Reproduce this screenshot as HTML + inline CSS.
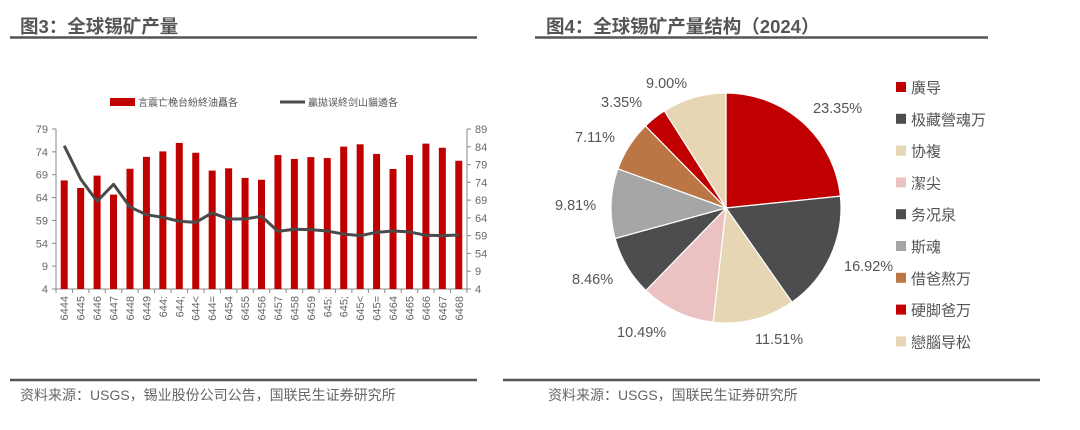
<!DOCTYPE html>
<html><head><meta charset="utf-8">
<style>
body{margin:0;width:1080px;height:430px;background:#fff;overflow:hidden;font-family:"Liberation Sans","Noto Sans CJK SC",sans-serif;}
svg{position:absolute;left:0;top:0;}
</style></head>
<body>
<svg width="1080" height="430">
<g>
<text x="20" y="33" font-size="18.5" font-weight="bold" fill="#555" font-family="Liberation Sans,Noto Sans CJK SC,sans-serif">图3：全球锡矿产量</text>
<line x1="10" y1="37.5" x2="477" y2="37.5" stroke="#555" stroke-width="2.5"/>
<line x1="10" y1="380" x2="477" y2="380" stroke="#555" stroke-width="2.5"/>
<text x="20" y="400" font-size="14" fill="#666" font-family="Liberation Sans,Noto Sans CJK SC,sans-serif">资料来源：USGS，锡业股份公司公告，国联民生证券研究所</text>
<rect x="110" y="98" width="25" height="8" fill="#c00000"/>
<text x="138" y="106" font-size="10" fill="#555">言震亡梚台紛終油矗各</text>
<line x1="280" y1="102" x2="305" y2="102" stroke="#4a4a4a" stroke-width="3"/>
<text x="308" y="106" font-size="10" fill="#555">贏拋误終剑山貓遴各</text>
<g id="leftChart"></g>
</g>
<g>
<text x="546" y="33" font-size="18.5" font-weight="bold" fill="#555" font-family="Liberation Sans,Noto Sans CJK SC,sans-serif">图4：全球锡矿产量结构（2024）</text>
<line x1="535" y1="37.5" x2="988" y2="37.5" stroke="#555" stroke-width="2.5"/>
<line x1="503" y1="380" x2="1040" y2="380" stroke="#555" stroke-width="2.5"/>
<text x="548" y="400" font-size="14" fill="#666" font-family="Liberation Sans,Noto Sans CJK SC,sans-serif">资料来源：USGS，国联民生证券研究所</text>
<g id="pieChart"></g>
</g>
</svg>
<script>
const years=["6444","6445","6446","6447","6448","6449","644:","644;","644<","644=","6454","6455","6456","6457","6458","6459","645:","645;","645<","645=","6464","6465","6466","6467","6468"];
const barValues=[4.75,4.42,4.96,4.13,5.26,5.78,6.02,6.39,5.96,5.18,5.28,4.86,4.78,5.86,5.69,5.77,5.73,6.23,6.33,5.91,5.25,5.86,6.36,6.18,5.61];
const lineValues=[8.06,6.19,4.93,5.89,4.61,4.18,4.03,3.81,3.75,4.28,3.94,3.94,4.09,3.24,3.36,3.34,3.26,3.09,3.0,3.19,3.26,3.21,3.02,3.0,3.04];
const leftTicks=["4","9","54","59","64","69","74","79"];
const rightTicks=["4","9","54","59","64","69","74","79","84","89"];
const pieValues=[23.35,16.92,11.51,10.49,8.46,9.81,7.11,3.35,9.00];
const pieLabels=["23.35%","16.92%","11.51%","10.49%","8.46%","9.81%","7.11%","3.35%","9.00%"];
const pieNames=["廣导","极藏營魂万","协複","潔尖","务况泉","斯魂","借爸熬万","硬脚爸万","戀腦导松"];
const pieColors=["#c00000","#4d4d4f","#e6d6b4","#ebc1c1","#4d4d4f","#a6a6a6","#bc7646","#c00000","#e6d6b4"];

const NS="http://www.w3.org/2000/svg";
function mk(parent,tag,attrs,text){const e=document.createElementNS(NS,tag);for(const k in attrs)e.setAttribute(k,attrs[k]);if(text!==undefined)e.textContent=text;parent.appendChild(e);return e;}

const L=document.getElementById('leftChart');
const x0=56,x1=467,yT=129,yB=289;
const yL=v=>yB-v/(leftTicks.length-1)*(yB-yT);
const yR=v=>yB-v/(rightTicks.length-1)*(yB-yT);
const band=(x1-x0)/years.length;
const xc=i=>x0+band*(i+0.5);
let e=mk(L,'line',{x1:x0,y1:yT,x2:x0,y2:yB,stroke:'#888'});


e=mk(L,'line',{x1:x1,y1:yT,x2:x1,y2:yB,stroke:'#888'});


e=mk(L,'line',{x1:x0,y1:yB,x2:x1,y2:yB,stroke:'#888'});


leftTicks.forEach((t,i)=>{const y=yL(i);
 mk(L,'line',{x1:x0-4,y1:y,x2:x0,y2:y,stroke:'#888'});
 const tx=mk(L,'text',{x:x0-8,y:y+4,'font-size':11,fill:'#666','text-anchor':'end'},t);
 
 });
rightTicks.forEach((t,i)=>{const y=yR(i);
 mk(L,'line',{x1:x1,y1:y,x2:x1+4,y2:y,stroke:'#888'});
 const tx=mk(L,'text',{x:x1+8,y:y+4,'font-size':11,fill:'#666'},t);
 
 });
for(let i=0;i<=years.length;i++){mk(L,'line',{x1:x0+band*i,y1:yB,x2:x0+band*i,y2:yB+4,stroke:'#888'});}
years.forEach((yr,i)=>{
 const r=mk(L,'rect',{x:xc(i)-3.5,y:yL(barValues[i]),width:7,height:yB-yL(barValues[i]),fill:'#c00000'});
 
 
 const tx=mk(L,'text',{x:0,y:0,'font-size':11,fill:'#666','text-anchor':'end',transform:`translate(${xc(i)+4},${yB+7}) rotate(-90)`},yr);
 
 
});
const pl=mk(L,'polyline',{points:lineValues.map((v,i)=>xc(i)+','+yR(v)).join(' '),fill:'none',stroke:'#4a4a4a','stroke-width':3,'stroke-linejoin':'round'});



const P=document.getElementById('pieChart');
const cx=726,cy=208,R=115;
const total=pieValues.reduce((a,b)=>a+b,0);
const labelPos=[[813,113],[844,271],[755,344],[617,337],[572,284],[555,210],[575,142],[601,107],[646,88]];
let a=0;
pieValues.forEach((v,i)=>{
 const a0=a/total*2*Math.PI, a1=(a+v)/total*2*Math.PI; a+=v;
 const p=(ang)=>[cx+R*Math.sin(ang),cy-R*Math.cos(ang)];
 const [sx,sy]=p(a0),[ex,ey]=p(a1);
 const s=mk(P,'path',{d:`M${cx},${cy}L${sx},${sy}A${R},${R} 0 ${a1-a0>Math.PI?1:0} 1 ${ex},${ey}Z`,fill:pieColors[i],stroke:'#fff','stroke-width':1.2});
 
 
 const t=mk(P,'text',{x:labelPos[i][0],y:labelPos[i][1],'font-size':14.5,fill:'#555'},pieLabels[i]);
 
 
 const ly=87+i*31.8;
 const sw=mk(P,'rect',{x:896,y:ly-5,width:10,height:10,fill:pieColors[i]});
 
 
 const lt=mk(P,'text',{x:911,y:ly+6,'font-size':15,fill:'#555'},pieNames[i]);
 
 
});
</script>
</body></html>
